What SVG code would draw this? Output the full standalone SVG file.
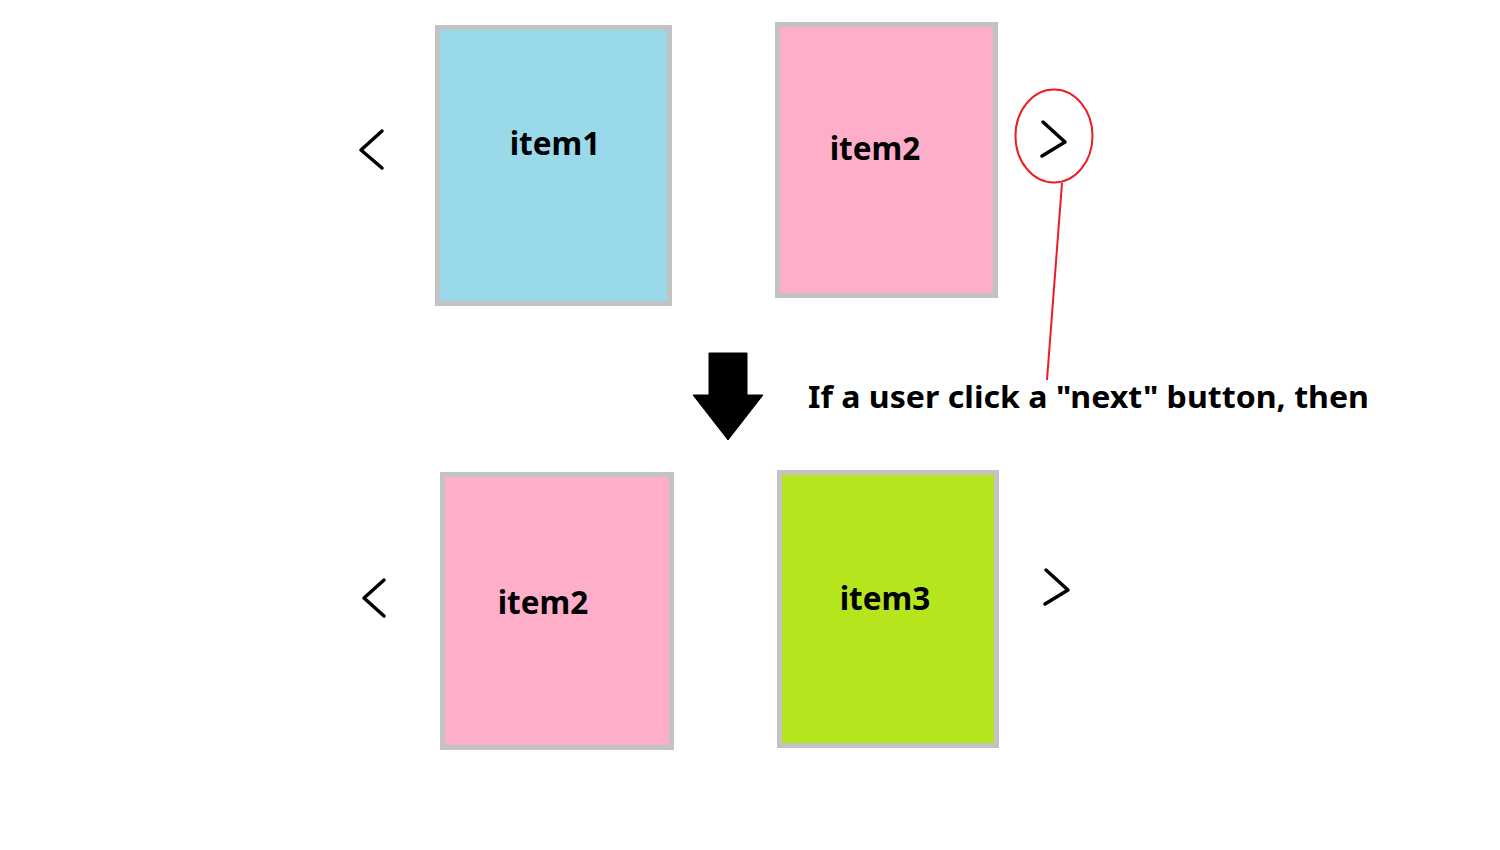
<svg xmlns="http://www.w3.org/2000/svg" width="1500" height="850" viewBox="0 0 1500 850">
<style>
.box{stroke:#c3c3c3;stroke-width:5}
.lbl{font-family:"Noto Sans","DejaVu Sans",sans-serif;font-weight:bold;font-size:30px;fill:#000}
.item{font-size:31.5px}
.chev{fill:none;stroke:#000;stroke-width:3.5;stroke-linecap:round;stroke-linejoin:round}
</style>
<rect width="1500" height="850" fill="#fff"/>
<g id="item1-top"><rect class="box" x="437.5" y="27.5" width="232" height="276" fill="#99d9ea"/><text class="lbl item" x="555" y="155" text-anchor="middle">item1</text></g>
<g id="item2-top"><rect class="box" x="777.5" y="24.5" width="218" height="271" fill="#ffaec9"/><text class="lbl item" x="875" y="160" text-anchor="middle">item2</text></g>
<g id="item2-bottom"><rect class="box" x="442.5" y="474.5" width="229" height="273" fill="#ffaec9"/><text class="lbl item" x="543" y="614" text-anchor="middle">item2</text></g>
<g id="item3-bottom"><rect class="box" x="779.5" y="472.5" width="217" height="273" fill="#b5e61d"/><text class="lbl item" x="885" y="610" text-anchor="middle">item3</text></g>
<g id="prev-top"><polyline class="chev" points="382,131 361,150 382,168"/></g>
<g id="next-top"><polyline class="chev" points="1043,122 1065,142 1042,156"/><ellipse cx="1054" cy="136" rx="38.5" ry="46.5" fill="none" stroke="#ed1c24" stroke-width="2"/></g>
<g id="prev-bottom"><polyline class="chev" points="384,580 364,598 384,616"/></g>
<g id="next-bottom"><polyline class="chev" points="1046,570 1068,590 1045,604"/></g>
<g id="caption"><text class="lbl" x="808" y="408" textLength="561" lengthAdjust="spacingAndGlyphs">If a user click a "next" button, then</text></g>
<g id="connectors">
<line x1="1062" y1="183" x2="1047" y2="380" stroke="#ed1c24" stroke-width="2"/>
<polygon points="709,353 747,353 747,395 763,395 728,440 693,395 709,395" fill="#000" stroke="#000" stroke-width="1" stroke-linejoin="round"/>
</g>
</svg>
